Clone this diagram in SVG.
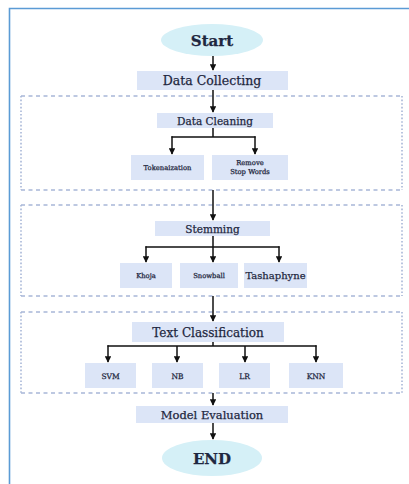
<svg xmlns="http://www.w3.org/2000/svg" width="409" height="484" viewBox="0 0 409 484">
<defs>
<marker id="ah" viewBox="0 0 10 10" refX="9" refY="5" markerWidth="4.2" markerHeight="4.2" markerUnits="strokeWidth" orient="auto">
<path d="M0,0 L10,5 L0,10 Z" fill="#111"/>
</marker>
<style>
.t{font-family:"DejaVu Serif","Liberation Serif",serif;fill:#1e2740;stroke:#1e2740;stroke-width:0.25;text-anchor:middle}
.box{fill:#dce5f7}
.ell{fill:#d5f0f7}
.gh{fill:none;stroke:#a8b7d8;stroke-width:1.6;stroke-dasharray:4 3.5}
.gv{fill:none;stroke:#a8b7d8;stroke-width:1.6;stroke-dasharray:1.6 2}
.c{fill:none;stroke:#111;stroke-width:1.5}
.a{marker-end:url(#ah)}
</style>
</defs>
<rect x="0" y="0" width="409" height="484" fill="#fff"/>
<path d="M9.5,484 V8.5 H409" fill="none" stroke="#5b9bd5" stroke-width="1.6"/>
<g id="groups">
<path class="gh" d="M21,96 H402 M21,190 H402"/>
<path class="gv" d="M21,96 V190 M402,96 V190"/>
<path class="gh" d="M21,205 H402 M21,296 H402"/>
<path class="gv" d="M21,205 V296 M402,205 V296"/>
<path class="gh" d="M21,312 H402 M21,393 H402"/>
<path class="gv" d="M21,312 V393 M402,312 V393"/>
</g>
<g id="start"><ellipse class="ell" cx="212" cy="40" rx="51" ry="16"/><text class="t" x="212" y="45.5" font-size="15" font-weight="bold">Start</text></g>
<g id="collect"><rect class="box" x="137" y="71" width="151" height="19"/><text class="t" x="212" y="85" font-size="12.5">Data Collecting</text></g>
<g id="clean"><rect class="box" x="157" y="113" width="116" height="15"/><text class="t" x="215" y="124.5" font-size="10.5">Data Cleaning</text></g>
<g id="token"><rect class="box" x="131" y="155" width="73" height="25"/><text class="t" x="167.5" y="170" font-size="6.8">Tokenaization</text></g>
<g id="stop"><rect class="box" x="212" y="155" width="76" height="25"/><text class="t" x="250" y="164.5" font-size="6.8">Remove</text><text class="t" x="250" y="174" font-size="6.8">Stop Words</text></g>
<g id="stem"><rect class="box" x="155" y="221" width="115" height="15"/><text class="t" x="212.5" y="232.5" font-size="10.5">Stemming</text></g>
<g id="khoja"><rect class="box" x="120" y="263" width="52" height="25"/><text class="t" x="146" y="278" font-size="6.8">Khoja</text></g>
<g id="snow"><rect class="box" x="180" y="263" width="58" height="25"/><text class="t" x="209" y="278" font-size="6.8">Snowball</text></g>
<g id="tasha"><rect class="box" x="244" y="263" width="63" height="25"/><text class="t" x="275.5" y="279" font-size="10">Tashaphyne</text></g>
<g id="textcls"><rect class="box" x="132" y="322" width="152" height="20"/><text class="t" x="208" y="336.5" font-size="12">Text Classification</text></g>
<g id="svm"><rect class="box" x="85" y="363" width="51" height="25"/><text class="t" x="110.5" y="378.5" font-size="7.5">SVM</text></g>
<g id="nb"><rect class="box" x="152" y="363" width="51" height="25"/><text class="t" x="177.5" y="378.5" font-size="7.5">NB</text></g>
<g id="lr"><rect class="box" x="219" y="363" width="51" height="25"/><text class="t" x="244.5" y="378.5" font-size="7.5">LR</text></g>
<g id="knn"><rect class="box" x="289" y="363" width="54" height="25"/><text class="t" x="316" y="378.5" font-size="7.5">KNN</text></g>
<g id="eval"><rect class="box" x="136" y="406" width="152" height="17"/><text class="t" x="212" y="419" font-size="11.5">Model Evaluation</text></g>
<g id="end"><ellipse class="ell" cx="212" cy="458" rx="50" ry="18"/><text class="t" x="212" y="464" font-size="15" font-weight="bold">END</text></g>
<g id="connectors">
<path class="c a" d="M213,56 V70"/>
<path class="c a" d="M213,90 V112"/>
<path class="c" d="M213,128 V137 M171.5,137 H255.5"/>
<path class="c a" d="M172,136.3 V154"/>
<path class="c a" d="M255,136.3 V154"/>
<path class="c a" d="M213,190 V220"/>
<path class="c" d="M213,236 V247 M145.5,247 H279.5"/>
<path class="c a" d="M146,246.3 V262"/>
<path class="c a" d="M213,247 V262"/>
<path class="c a" d="M279,246.3 V262"/>
<path class="c a" d="M213,296 V321"/>
<path class="c" d="M213,342 V346 M107.5,346 H316.5"/>
<path class="c a" d="M108,345.3 V362"/>
<path class="c a" d="M177,346 V362"/>
<path class="c a" d="M245,346 V362"/>
<path class="c a" d="M316,345.3 V362"/>
<path class="c a" d="M213,393 V405"/>
<path class="c a" d="M213,423 V439"/>
</g>
</svg>
